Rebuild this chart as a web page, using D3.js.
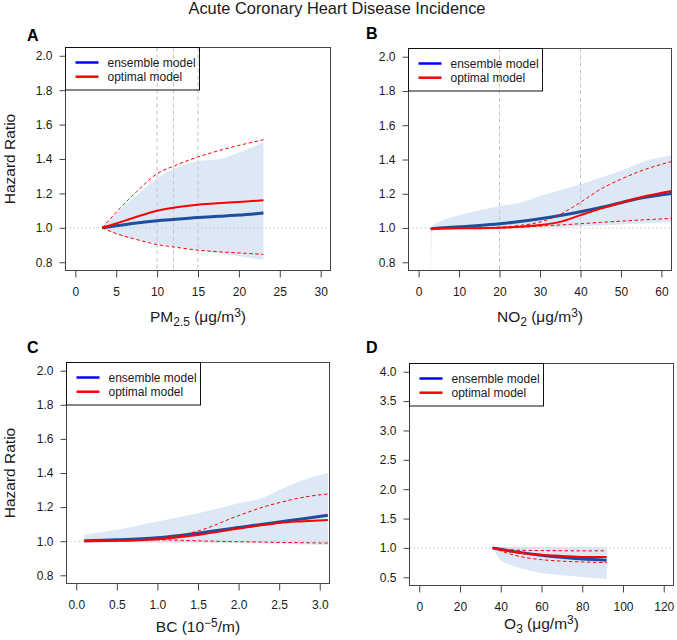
<!DOCTYPE html>
<html>
<head>
<meta charset="utf-8">
<script src="https://cdn.jsdelivr.net/npm/d3@7"></script>
<style>
  html, body { margin: 0; padding: 0; background: #fff; }
  svg { display: block; font-family: "Liberation Sans", Arial, Helvetica, sans-serif; }
</style>
</head>
<body>
<svg id="chart" width="677" height="640"></svg>
<script>
// ---------------- DATA ----------------
const chartTitle = "Acute Coronary Heart Disease Incidence";
const legendLabels = ["ensemble model", "optimal model"];
const panelLetters = ["A", "B", "C", "D"];

// Panel A: PM2.5
const pmX      = [3.3, 5, 7.5, 10, 12, 15, 17.5, 20, 23];
const pmEns    = [1.0, 1.012, 1.028, 1.041, 1.049, 1.060, 1.067, 1.074, 1.086];
const pmOpt    = [1.0, 1.025, 1.064, 1.099, 1.117, 1.134, 1.143, 1.150, 1.160];
const pmOptLo  = [1.0, 0.967, 0.932, 0.903, 0.889, 0.870, 0.861, 0.854, 0.846];
const pmOptHi  = [1.0, 1.09, 1.21, 1.315, 1.358, 1.412, 1.448, 1.479, 1.512];
const pmEnsLo  = [1.0, 0.96, 0.93, 0.909, 0.893, 0.870, 0.852, 0.835, 0.813];
const pmEnsHi  = [1.0, 1.085, 1.19, 1.29, 1.342, 1.387, 1.398, 1.438, 1.498];
const pmXTicks = [0, 5, 10, 15, 20, 25, 30];
const pmVLines = [10, 12, 15];

// Panel B: NO2
const noX      = [3, 3.3, 5, 10, 15, 20, 25, 30, 35, 40, 45, 50, 55, 62.5];
const noEns    = [0.995, 0.996, 1.0, 1.007, 1.015, 1.025, 1.038, 1.054, 1.073, 1.095, 1.12, 1.148, 1.175, 1.202];
const noOpt    = [0.995, 0.996, 0.997, 0.998, 0.999, 1.0015, 1.007, 1.017, 1.036, 1.075, 1.113, 1.148, 1.18, 1.216];
const noOptLo  = [0.995, 0.996, 0.996, 0.997, 0.998, 0.999, 1.004, 1.011, 1.018, 1.025, 1.033, 1.04, 1.047, 1.056];
const noOptHi  = [0.995, 0.996, 0.998, 1.0, 1.002, 1.005, 1.015, 1.035, 1.08, 1.15, 1.227, 1.285, 1.334, 1.388];
const noEnsLo  = [0.6, 1.0, 1.0, 0.998, 0.998, 1.0, 1.001, 1.003, 1.006, 1.01, 1.015, 1.02, 1.027, 1.035];
const noEnsHi  = [0.995, 1.01, 1.035, 1.074, 1.102, 1.128, 1.148, 1.187, 1.22, 1.255, 1.295, 1.334, 1.383, 1.425];
const noXTicks = [0, 10, 20, 30, 40, 50, 60];
const noVLines = [20, 40];

// Panel C: BC
const bcX      = [0.1, 0.5, 1.0, 1.5, 2.0, 2.3, 2.5, 2.8, 3.1];
const bcEns    = [1.003, 1.008, 1.02, 1.047, 1.08, 1.1, 1.113, 1.132, 1.152];
const bcOpt    = [1.0, 1.002, 1.012, 1.037, 1.074, 1.095, 1.107, 1.117, 1.125];
const bcOptLo  = [1.0, 1.003, 1.008, 1.0025, 0.997, 0.995, 0.993, 0.991, 0.989];
const bcOptHi  = [1.0, 1.003, 1.018, 1.06, 1.15, 1.2, 1.226, 1.258, 1.277];
const bcEnsLo  = [0.99, 0.993, 0.993, 0.991, 0.989, 0.987, 0.985, 0.981, 0.977];
const bcEnsHi  = [1.04, 1.067, 1.115, 1.164, 1.222, 1.255, 1.30, 1.359, 1.398];
const bcXTicks = [0, 0.5, 1.0, 1.5, 2.0, 2.5, 3.0];

// Panel D: O3
const o3X      = [36, 40, 45, 50, 60, 70, 80, 92];
const o3Ens    = [1.0, 0.977, 0.945, 0.92, 0.875, 0.84, 0.81, 0.79];
const o3Opt    = [1.0, 0.97, 0.94, 0.915, 0.88, 0.864, 0.847, 0.847];
const o3OptLo  = [1.0, 0.95, 0.892, 0.85, 0.80, 0.775, 0.761, 0.75];
const o3OptHi  = [1.0, 0.985, 0.97, 0.96, 0.955, 0.952, 0.95, 0.95];
const o3EnsLo  = [1.0, 0.79, 0.705, 0.648, 0.574, 0.534, 0.506, 0.472];
const o3EnsHi  = [1.0, 1.01, 1.015, 1.015, 1.015, 1.012, 1.01, 1.005];
const o3XTicks = [0, 20, 40, 60, 80, 100, 120];

const hrTicks = [0.8, 1.0, 1.2, 1.4, 1.6, 1.8, 2.0];
const o3YTicks = [0.5, 1.0, 1.5, 2.0, 2.5, 3.0, 3.5, 4.0];

// ---------------- LAYOUT / STYLE ----------------
const C = {
  band: "#dce8f5", ens: "#1d4f9c", ensLegend: "#0000ff", opt: "#ff0000",
  ref: "#c4c4c4", frame: "#444444", text: "#1a1a1a"
};
const FONT = '"Liberation Sans", Arial, Helvetica, sans-serif';

const panels = [
  { letter: panelLetters[0], lx: 27, ly: 40.7, box: [65.5, 330.5, 47.5, 270.5], xd: [-1.2, 31.2], yd: [0.752, 2.048],
    x: pmX, ens: pmEns, opt: pmOpt, optLo: pmOptLo, optHi: pmOptHi, ensLo: pmEnsLo, ensHi: pmEnsHi,
    xt: pmXTicks, xf: d3.format("d"), yt: hrTicks, yf: d3.format(".1f"), vl: pmVLines, ytitle: true, tb: 321.5,
    xtitle: [["PM", 0], ["2.5", 1], [" (μg/m", 0], ["3", 2], [")", 0]] },
  { letter: panelLetters[1], lx: 366, ly: 38.5, box: [408.5, 671.5, 48.5, 270.5], xd: [-2.5, 62.5], yd: [0.752, 2.048],
    x: noX, ens: noEns, opt: noOpt, optLo: noOptLo, optHi: noOptHi, ensLo: noEnsLo, ensHi: noEnsHi,
    xt: noXTicks, xf: d3.format("d"), yt: hrTicks, yf: d3.format(".1f"), vl: noVLines, ytitle: false, tb: 321.5,
    xtitle: [["NO", 0], ["2", 1], [" (μg/m", 0], ["3", 2], [")", 0]] },
  { letter: panelLetters[2], lx: 27, ly: 352.7, box: [66.5, 329.5, 362.5, 583.5], xd: [-0.12, 3.12], yd: [0.752, 2.048],
    x: bcX, ens: bcEns, opt: bcOpt, optLo: bcOptLo, optHi: bcOptHi, ensLo: bcEnsLo, ensHi: bcEnsHi,
    xt: bcXTicks, xf: d3.format(".1f"), yt: hrTicks, yf: d3.format(".1f"), vl: [], ytitle: true, tb: 631.5,
    xtitle: [["BC (10", 0], ["−5", 2], ["/m)", 0]] },
  { letter: panelLetters[3], lx: 366, ly: 353.3, box: [409.5, 673.5, 363.5, 585.5], xd: [-4.8, 124.8], yd: [0.36, 4.14],
    x: o3X, ens: o3Ens, opt: o3Opt, optLo: o3OptLo, optHi: o3OptHi, ensLo: o3EnsLo, ensHi: o3EnsHi,
    xt: o3XTicks, xf: d3.format("d"), yt: o3YTicks, yf: d3.format(".1f"), vl: [], ytitle: false, tb: 629,
    xtitle: [["O", 0], ["3", 1], [" (μg/m", 0], ["3", 2], [")", 0]] }
];

const svg = d3.select("#chart");

svg.append("text")
  .attr("x", 337).attr("y", 13.5)
  .attr("text-anchor", "middle")
  .attr("font-size", 16.4).attr("fill", C.text)
  .text(chartTitle);

panels.forEach((p, i) => {
  const [x0, x1, y0, y1] = p.box;
  const xs = d3.scaleLinear().domain(p.xd).range([x0, x1]);
  const ys = d3.scaleLinear().domain(p.yd).range([y1, y0]);
  const g = svg.append("g");

  const clipId = "clip" + i;
  svg.append("clipPath").attr("id", clipId)
    .append("rect").attr("x", x0).attr("y", y0).attr("width", x1 - x0).attr("height", y1 - y0);
  const pg = g.append("g").attr("clip-path", `url(#${clipId})`);

  const idx = d3.range(p.x.length);
  const area = d3.area().curve(d3.curveMonotoneX)
    .x(k => xs(p.x[k])).y0(k => ys(p.ensLo[k])).y1(k => ys(p.ensHi[k]));
  pg.append("path").attr("d", area(idx)).attr("fill", C.band).attr("stroke", "none");

  // reference lines
  pg.append("line").attr("x1", x0).attr("x2", x1).attr("y1", ys(1)).attr("y2", ys(1))
    .attr("stroke", C.ref).attr("stroke-width", 1).attr("stroke-dasharray", "1.5,2.5");
  p.vl.forEach(v => {
    pg.append("line").attr("x1", xs(v)).attr("x2", xs(v)).attr("y1", y0).attr("y2", y1)
      .attr("stroke", C.ref).attr("stroke-width", 1).attr("stroke-dasharray", "4,3");
  });

  const line = arr => d3.line().curve(d3.curveMonotoneX).x(k => xs(p.x[k])).y(k => ys(arr[k]))(idx);
  pg.append("path").attr("d", line(p.ens)).attr("fill", "none").attr("stroke", C.ens).attr("stroke-width", 3);
  pg.append("path").attr("d", line(p.opt)).attr("fill", "none").attr("stroke", C.opt).attr("stroke-width", 2);
  [p.optLo, p.optHi].forEach(a => {
    pg.append("path").attr("d", line(a)).attr("fill", "none").attr("stroke", C.opt)
      .attr("stroke-width", 1).attr("stroke-dasharray", "3.5,2.5");
  });

  // axes
  const ax = g.append("g").attr("transform", `translate(0,${y1})`)
    .call(d3.axisBottom(xs).tickValues(p.xt).tickFormat(p.xf).tickSize(7).tickSizeOuter(0).tickPadding(10));
  const ay = g.append("g").attr("transform", `translate(${x0},0)`)
    .call(d3.axisLeft(ys).tickValues(p.yt).tickFormat(p.yf).tickSize(6).tickSizeOuter(0).tickPadding(7));
  [ax, ay].forEach(a => {
    a.select(".domain").remove();
    a.selectAll(".tick line").attr("stroke", C.frame);
    a.selectAll(".tick text").attr("font-size", 12).attr("font-family", FONT).attr("fill", C.text);
  });

  // frame
  g.append("rect").attr("x", x0).attr("y", y0).attr("width", x1 - x0).attr("height", y1 - y0)
    .attr("fill", "none").attr("stroke", C.frame).attr("stroke-width", 1);

  // legend
  const lg = g.append("g").attr("transform", `translate(${x0},${y0})`);
  lg.append("rect").attr("x", 0).attr("y", 0).attr("width", 134).attr("height", 42.5)
    .attr("fill", "none").attr("stroke", "#111").attr("stroke-width", 1);
  [C.ensLegend, C.opt].forEach((col, k) => {
    const yy = 15 + k * 14.2;
    lg.append("line").attr("x1", 10).attr("x2", 33).attr("y1", yy).attr("y2", yy)
      .attr("stroke", col).attr("stroke-width", 2.5);
    lg.append("text").attr("x", 42).attr("y", yy + 4.2).attr("font-size", 12).attr("fill", C.text)
      .text(legendLabels[k]);
  });

  // panel letter
  svg.append("text").attr("x", p.lx).attr("y", p.ly).attr("font-size", 16).attr("font-weight", "bold")
    .attr("fill", "#000").text(p.letter);

  // x title
  const xt = svg.append("text").attr("x", (x0 + x1) / 2).attr("y", p.tb)
    .attr("text-anchor", "middle").attr("font-size", 15.5).attr("fill", C.text);
  let shift = 0;
  p.xtitle.forEach(([s, kind]) => {
    const target = kind === 1 ? 4 : kind === 2 ? -5 : 0;
    const t = xt.append("tspan").attr("dy", target - shift).text(s);
    if (kind) t.attr("font-size", 12);
    shift = target;
  });

  if (p.ytitle) {
    svg.append("text").attr("transform", `translate(15,${(y0 + y1) / 2}) rotate(-90)`)
      .attr("text-anchor", "middle").attr("font-size", 15.5).attr("fill", C.text)
      .text("Hazard Ratio");
  }
});
</script>
</body>
</html>
